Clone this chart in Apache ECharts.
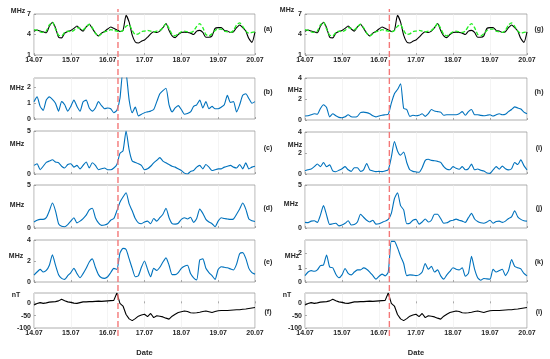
<!DOCTYPE html>
<html><head><meta charset="utf-8">
<script src="https://cdn.jsdelivr.net/npm/echarts@6/dist/echarts.min.js"></script>
<style>html,body{margin:0;padding:0;background:#fff}#c{width:550px;height:359px}</style>
</head><body><div id="c"></div><script>
// ---- data ----
const dateLabels = ['14.07','15.07','16.07','17.07','18.07','19.07','20.07'];
const dayTicks = [0,1,2,3,4,5,6];
const stepHours = 2;
const eventDay = 2.28;
const foF2Obs = [4.46,4.65,4.5,4.4,4.25,5.2,5.75,5.0,3.6,3.5, 4.2,4.45,4.6,4.9,5.25,4.8,4.5,5.1,5.5,4.9, 4.2,3.8,4.2,4.45,4.8,5.1,4.9,4.7,4.45,4.6, 6.8,5.8,3.9,2.9,2.75,3.0,3.2,3.6,4.1,4.4, 4.3,4.5,5.0,5.6,4.6,3.8,3.55,4.0,4.3,4.35, 4.3,4.2,4.0,4.5,4.6,4.3,3.6,3.6,3.8,4.9, 5.0,5.0,4.6,4.5,4.3,4.4,5.0,5.4,5.0,4.5, 3.4,2.85,4.4];
const foF2Model = [4.7,4.6,4.4,4.3,4.5,5.4,5.8,4.8,3.9,3.8, 4.3,4.5,4.4,4.6,5.0,4.9,4.7,5.1,5.5,5.0, 4.2,3.8,4.1,4.4,4.5,4.7,4.6,4.5,4.4,4.6, 5.2,5.4,4.6,4.0,4.1,4.4,4.5,4.6,4.5,4.4, 4.5,4.6,5.0,5.6,4.9,4.0,3.8,4.1,4.4,4.5, 4.4,4.3,4.5,5.2,5.6,5.0,4.0,3.8,4.1,4.6, 4.8,4.8,4.5,4.4,4.3,4.6,5.4,5.7,5.2,4.5, 4.2,4.3,4.4];
const seriesB = [1.1,1.4,0.8,0.55,1.2,1.4,1.25,1.0,0.5,1.1, 0.9,0.5,0.8,1.2,0.8,0.5,1.1,1.2,0.7,0.5, 0.7,1.1,0.85,0.65,0.7,0.65,0.4,0.55,1.3,3.0, 2.9,1.2,0.4,0.75,0.2,0.3,0.4,0.45,0.5,0.6, 1.1,1.6,1.8,1.95,0.9,0.45,0.7,0.85,0.6,0.3, 0.35,0.45,0.8,0.9,1.2,0.7,1.1,0.65,0.8,0.65, 0.65,0.75,0.9,1.5,1.05,1.1,0.45,0.9,1.5,1.6, 1.3,1.0,1.1];
const seriesC = [1.0,1.2,0.5,0.9,1.35,1.5,1.65,1.4,1.3,0.9, 0.7,1.1,1.2,0.8,1.0,0.6,1.0,1.4,0.7,1.3, 1.0,0.5,0.6,0.7,0.5,0.5,0.7,1.1,2.4,2.7, 5.0,2.8,1.5,1.35,1.2,1.0,0.5,0.6,0.9,1.3, 1.6,1.9,1.5,1.3,1.1,0.9,0.8,0.6,0.4,0.1, 0.0,0.3,0.4,0.8,1.0,0.6,1.1,0.8,0.4,0.5, 0.6,0.6,0.8,0.9,1.0,0.8,0.7,1.1,0.6,1.3, 0.6,0.8,0.9];
const seriesD = [0.7,0.9,1.0,1.0,1.2,2.0,2.9,2.0,0.5,0.2, 0.15,0.4,0.8,1.2,0.6,0.8,1.1,1.5,2.1,2.3, 1.2,0.6,0.3,0.35,0.5,0.9,1.1,2.0,3.0,3.6, 4.1,2.8,2.0,1.1,0.6,0.5,0.7,0.8,0.5,1.1, 0.8,1.2,1.6,2.3,1.2,0.5,0.45,0.55,1.0,1.2, 1.05,1.25,0.65,1.1,2.2,1.7,1.0,0.7,0.5,0.15, 0.8,1.2,1.1,1.05,1.0,1.05,1.6,2.2,2.9,2.2, 1.05,0.85,0.75];
const seriesE = [0.65,0.95,1.2,0.95,1.1,1.6,2.6,1.6,0.7,0.35, 0.25,0.6,0.9,1.3,0.8,0.4,0.8,1.3,1.9,2.2, 1.4,0.7,0.4,0.35,0.5,0.9,1.3,1.2,2.75,3.2, 3.1,2.2,1.3,0.5,0.6,1.4,2.0,1.2,0.5,1.3, 1.1,1.4,1.9,2.3,1.6,0.7,0.7,0.9,1.3,1.5, 1.6,0.8,0.4,0.2,2.1,2.2,1.3,0.9,0.6,0.25, 1.2,1.45,1.4,1.35,1.25,1.15,1.7,2.7,2.8,2.25, 1.3,0.9,0.75];
const dst = [-7,-1,3,0,2,5,6,7,10,17, 11,6,4,1,0,3,6,6,7,7, 8,9,8,9,10,11,12,42,0,-11, -45,-63,-70,-62,-52,-47,-44,-54,-41,-58, -50,-52,-55,-60,-64,-52,-44,-37,-34,-31, -33,-38,-39,-38,-36,-33,-31,-34,-37,-33, -30,-29,-29,-29,-28,-27,-26,-26,-24,-23, -21,-19,-17];
const seriesH = [0.38,0.4,0.5,0.6,0.55,1.1,1.45,1.2,0.3,0.6, 0.4,0.25,0.22,0.3,0.5,0.3,0.28,0.35,0.7,0.75, 0.7,0.6,0.4,0.3,0.38,0.45,0.5,0.55,1.6,2.5, 2.9,3.45,1.1,1.0,0.35,0.45,0.4,0.45,0.6,0.35, 0.6,1.0,0.85,0.8,0.75,0.45,0.5,0.5,0.5,0.5, 0.6,0.8,0.45,0.8,1.0,0.5,0.5,0.44,0.4,0.45, 0.5,0.38,0.5,0.6,0.5,0.55,0.8,1.0,1.25,1.15, 1.05,0.75,0.6];
const seriesI = [0.3,0.4,0.48,0.7,0.95,0.7,1.1,0.7,0.87,0.3, 0.22,0.35,0.5,0.7,0.4,0.25,0.6,0.6,0.25,0.4, 1.0,0.4,0.3,0.23,0.25,0.23,0.3,0.4,1.6,3.1, 2.2,1.8,2.1,1.1,0.4,0.25,0.2,0.16,0.6,1.3, 1.4,1.3,1.26,1.2,1.1,0.7,0.45,0.4,0.7,0.55, 0.45,0.7,0.4,0.5,0.94,0.4,0.48,0.35,0.29,0.1, 0.06,0.39,0.7,0.45,0.75,0.5,0.39,0.5,1.1,0.9, 1.35,0.8,0.39];
const seriesJ = [0.65,0.62,0.8,0.85,0.65,1.5,2.6,1.5,0.4,0.5, 0.55,0.25,0.35,0.55,0.85,0.35,0.4,0.7,1.6,1.25, 0.9,0.7,0.9,0.45,0.5,0.65,0.8,1.0,1.7,3.4, 4.1,2.6,2.1,0.5,0.55,0.9,1.0,0.45,0.7,1.05, 0.7,0.9,1.6,1.6,1.1,0.55,0.6,0.8,0.9,1.03, 0.9,0.8,0.65,1.2,1.7,1.05,0.75,0.6,0.55,0.7, 0.9,0.55,0.75,0.8,0.65,0.8,1.1,1.3,2.0,1.3, 1.0,0.85,0.8];
const seriesK = [0.45,0.7,0.8,0.75,0.85,1.15,1.2,1.9,1.05,1.0, 0.55,0.3,0.5,0.95,0.6,0.5,0.7,0.85,0.85,0.99, 0.9,0.7,0.45,0.2,0.4,0.55,0.43,0.7,2.85,2.85, 2.4,1.8,1.3,0.45,0.5,0.48,0.45,0.5,0.7,1.3, 0.9,1.1,0.7,0.85,0.43,0.2,0.5,0.75,1.0,0.9, 0.85,1.0,0.4,0.6,1.8,0.9,0.3,0.12,0.25,0.22, 0.2,0.9,0.7,0.8,0.9,0.45,0.8,1.57,1.1,1.0, 0.92,0.6,0.43];
const ticksFoF2 = [1,4,7];
const ticks012 = [0,1,2];
const ticks05 = [0,5];
const ticks024 = [0,2,4];
const ticksDst = [-100,-50,0];

// ---- layout ----
const BLUE = '#0072BD';
const FONT = '"Liberation Sans", Arial, sans-serif';
const cols = [{left:34, width:221, unitLabelX:[18,17,17,17,16,16], tagX:268},
              {left:305, width:222, unitLabelX:[287,295,295,291,292,287], tagX:539}];
const rows = [
  {tag:['(a)','(g)'], top:14, h:41},
  {tag:['(b)','(h)'], top:[78,78], h:[41,42]},
  {tag:['(c)','(i)'], top:[131,132], h:[43,42]},
  {tag:['(d)','(j)'], top:185, h:43},
  {tag:['(e)','(k)'], top:240, h:42},
  {tag:['(f)','(l)'], top:293, h:35}
];
const panelDefs = [
  [{s:[[foF2Obs,'#000',false],[foF2Model,'#22ee22',true]], min:1, max:7, ticks:ticksFoF2, unit:'MHz', unitY:11, tagY:29},
   {s:[[seriesB,BLUE,false]], min:0, max:2.6, ticks:ticks012, unit:'MHz', unitY:88, tagY:92},
   {s:[[seriesC,BLUE,false]], min:0, max:5, ticks:ticks05, unit:'MHz', unitY:144, tagY:148},
   {s:[[seriesD,BLUE,false]], min:0, max:5, ticks:ticks05, unit:'MHz', unitY:205, tagY:208},
   {s:[[seriesE,BLUE,false]], min:0, max:4, ticks:ticks024, unit:'MHz', unitY:256, tagY:262},
   {s:[[dst,'#000',false]], min:-100, max:42, ticks:ticksDst, unit:'nT', unitY:295, tagY:312}],
  [{s:[[foF2Obs,'#000',false],[foF2Model,'#22ee22',true]], min:1, max:7, ticks:ticksFoF2, unit:'MHz', unitY:10, tagY:29},
   {s:[[seriesH,BLUE,false]], min:0, max:4, ticks:ticks024, unit:'MHz', unitY:90, tagY:92},
   {s:[[seriesI,BLUE,false]], min:0, max:4, ticks:ticks024, unit:'MHz', unitY:145, tagY:148},
   {s:[[seriesJ,BLUE,false]], min:0, max:5, ticks:ticks05, unit:'MHz', unitY:204, tagY:208},
   {s:[[seriesK,BLUE,false]], min:0, max:2.95, ticks:ticks012, unit:'MHz', unitY:256, tagY:262},
   {s:[[dst,'#000',false]], min:-100, max:42, ticks:ticksDst, unit:'nT', unitY:295, tagY:312}]
];

const toXY = arr => arr.map((v,i) => [i*stepHours/24, v]);
const grid=[], xAxis=[], yAxis=[], series=[], graphic=[];
const lblStyle = {fontSize:7, fontWeight:'bold', color:'#262626', fontFamily:FONT};

cols.forEach((col, c) => {
  rows.forEach((row, r) => {
    const p = panelDefs[c][r];
    const top = Array.isArray(row.top) ? row.top[c] : row.top;
    const h = Array.isArray(row.h) ? row.h[c] : row.h;
    const gi = grid.length;
    grid.push({left:col.left, width:col.width, top:top, height:h, show:true, borderColor:'#9a9a9a', borderWidth:0.8, backgroundColor:'#fff'});
    const showX = (r===0 || r===5);
    xAxis.push({gridIndex:gi, type:'value', min:0, max:6, interval:1,
      name: r===5 ? 'Date' : '', nameLocation:'middle', nameGap:21,
      nameTextStyle:{fontSize:7.5, fontWeight:'bold', color:'#262626', fontFamily:FONT},
      axisLine:{show:false},
      axisTick:{show:true, inside:true, length:2, lineStyle:{color:'#777', width:0.6}},
      axisLabel:{show:showX, ...lblStyle, margin:2, formatter: v => dateLabels[Math.round(v)] || ''},
      splitLine:{show:true, lineStyle:{color:'#ececec', width:0.6}}});
    yAxis.push({gridIndex:gi, type:'value', min:p.min, max:p.max,
      axisLine:{show:false}, splitLine:{show:false},
      axisTick:{show:true, inside:true, length:2, customValues:p.ticks, lineStyle:{color:'#777', width:0.6}},
      axisLabel:{...lblStyle, margin:3, customValues:p.ticks}});
    p.s.forEach(([arr,color,dashed]) => {
      series.push({type:'line', xAxisIndex:gi, yAxisIndex:gi, data:toXY(arr), showSymbol:false, clip:true,
        smooth: r===5 ? false : 0.2,
        lineStyle:{color:color, width: dashed ? 1.3 : 1.1, type: dashed ? [4,2] : 'solid'}, z: dashed ? 4 : 3, animation:false});
    });
    graphic.push({type:'text', x:col.unitLabelX[r], y:p.unitY, style:{text:p.unit, textAlign:'center', textVerticalAlign:'middle', font:'bold 7px '+FONT, fill:'#262626'}});
    graphic.push({type:'text', x:col.tagX, y:p.tagY, style:{text:row.tag[c], textAlign:'center', textVerticalAlign:'middle', font:'bold 7px '+FONT, fill:'#262626'}});
  });
  const gi = grid.length;
  grid.push({left:col.left, width:col.width, top:9, height:327, show:false});
  xAxis.push({gridIndex:gi, type:'value', min:0, max:6, show:false});
  yAxis.push({gridIndex:gi, type:'value', min:0, max:1, show:false});
  series.push({type:'line', xAxisIndex:gi, yAxisIndex:gi, data:[[eventDay,0],[eventDay,1]], showSymbol:false,
    lineStyle:{color:'#f47878', width:1.4, type:[6,3]}, z:5, animation:false});
});

const chart = echarts.init(document.getElementById('c'), null, {renderer:'canvas'});
chart.setOption({animation:false, backgroundColor:'#fff', grid, xAxis, yAxis, series, graphic});
</script></body></html>
